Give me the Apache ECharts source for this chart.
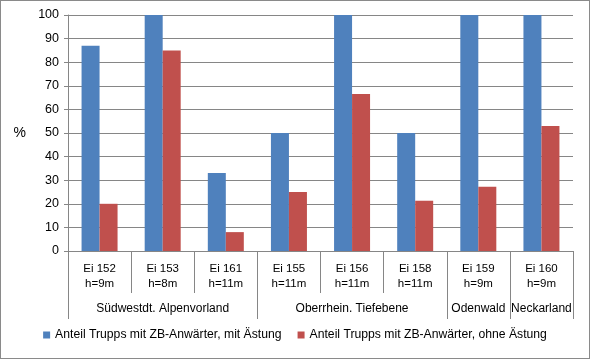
<!DOCTYPE html>
<html>
<head>
<meta charset="utf-8">
<script src="https://cdn.jsdelivr.net/npm/echarts@6/dist/echarts.min.js"></script>
<style>
html,body{margin:0;padding:0;background:#fff;}
#chart{width:590px;height:359px;box-sizing:border-box;border:1px solid #8a8a8a;}
</style>
</head>
<body>
<div id="chart"></div>
<script>
const categories = ['Ei 152\nh=9m','Ei 153\nh=8m','Ei 161\nh=11m','Ei 155\nh=11m','Ei 156\nh=11m','Ei 158\nh=11m','Ei 159\nh=9m','Ei 160\nh=9m'];
const groupLabels = ['', 'Südwestdt. Alpenvorland', '', '', 'Oberrhein. Tiefebene', '', 'Odenwald', 'Neckarland'];
const groupBoundaries = [0, 3, 6, 7];
const seriesNames = ['Anteil Trupps mit ZB-Anwärter, mit Ästung', 'Anteil Trupps mit ZB-Anwärter, ohne Ästung'];
const mitAestung = [87, 100, 33, 50, 100, 50, 100, 100];
const ohneAestung = [20, 85, 8, 25, 66.5, 21.3, 27.2, 53];

const font = 'Liberation Sans, Arial, sans-serif';
const gray = '#868686';
const chart = echarts.init(document.getElementById('chart'));
chart.setOption({
  animation: false,
  color: ['#4F81BD', '#C0504D'],
  textStyle: {fontFamily: font},
  grid: {left: 67, right: 16, top: 14, bottom: 107},
  legend: {
    bottom: 12, left: 'center',
    itemWidth: 7, itemHeight: 7, itemGap: 16,
    icon: 'rect',
    textStyle: {fontFamily: font, fontSize: 12.2, color: '#000'},
    data: seriesNames
  },
  xAxis: [{
    type: 'category',
    data: categories,
    axisLine: {show: true, lineStyle: {color: gray}},
    axisTick: {show: true, length: 42, interval: 0, alignWithLabel: false, lineStyle: {color: gray}},
    axisLabel: {interval: 0, fontSize: 11.5, lineHeight: 15, margin: 10, color: '#000', fontFamily: font},
    splitLine: {show: false}
  }, {
    type: 'category',
    position: 'bottom',
    data: groupLabels,
    axisLine: {show: false},
    axisTick: {show: true, length: 68, alignWithLabel: false, interval: function (i) { return groupBoundaries.indexOf(i) >= 0; }, lineStyle: {color: gray}},
    axisLabel: {interval: 0, fontSize: 12, margin: 52, color: '#000', fontFamily: font},
    splitLine: {show: false}
  }],
  yAxis: {
    type: 'value', min: 0, max: 100, interval: 10,
    name: '%', nameLocation: 'middle', nameRotate: 0, nameGap: 42,
    nameTextStyle: {fontSize: 14, color: '#000', fontFamily: font},
    axisLine: {show: true, lineStyle: {color: gray}},
    axisTick: {show: true, length: 4, lineStyle: {color: gray}},
    axisLabel: {fontSize: 12.5, margin: 9, color: '#000', fontFamily: font},
    splitLine: {show: true, lineStyle: {color: gray, width: 1}}
  },
  series: [{
    name: seriesNames[0], type: 'bar', data: mitAestung, barWidth: 18, barGap: '0%'
  }, {
    name: seriesNames[1], type: 'bar', data: ohneAestung, barWidth: 18, barGap: '0%'
  }]
});
</script>
</body>
</html>
